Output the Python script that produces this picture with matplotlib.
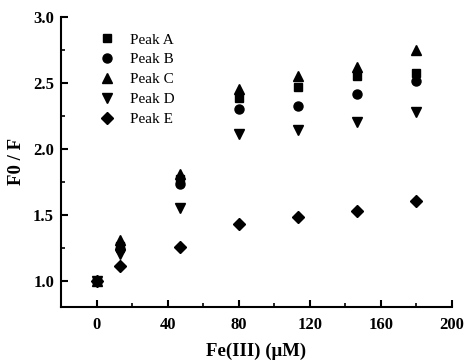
import matplotlib
matplotlib.use("Agg")
import matplotlib.pyplot as plt
from matplotlib.ticker import MultipleLocator

plt.rcParams['font.family'] = ['Liberation Serif', 'DejaVu Serif']

fe = [0, 13.3, 46.7, 80, 113.3, 146.7, 180]
peak_a = [1.0, 1.26, 1.77, 2.38, 2.47, 2.55, 2.57]
peak_b = [1.0, 1.24, 1.73, 2.30, 2.32, 2.41, 2.51]
peak_c = [1.0, 1.31, 1.81, 2.45, 2.55, 2.62, 2.745]
peak_d = [1.0, 1.20, 1.55, 2.11, 2.14, 2.20, 2.28]
peak_e = [1.0, 1.11, 1.255, 1.43, 1.48, 1.53, 1.60]
labels = ["Peak A", "Peak B", "Peak C", "Peak D", "Peak E"]
markers = ["s", "o", "^", "v", "D"]
sizes = [6, 6.5, 7.5, 7.5, 6]

fig = plt.figure(figsize=(4.66, 3.6), dpi=100)
ax = fig.add_axes([0.131, 0.147, 0.839, 0.807])

for ys, lab, m, s in zip([peak_a, peak_b, peak_c, peak_d, peak_e], labels, markers, sizes):
    ax.plot(fe, ys, linestyle='none', marker=m, color='black', markersize=s, label=lab)

ax.set_xlim(-20, 200)
ax.set_ylim(0.8, 3.0)
ax.xaxis.set_minor_locator(MultipleLocator(20))
ax.yaxis.set_minor_locator(MultipleLocator(0.25))
ax.set_xticks([0, 40, 80, 120, 160, 200])
ax.set_yticks([1.0, 1.5, 2.0, 2.5, 3.0])
ax.set_yticklabels(["1.0", "1.5", "2.0", "2.5", "3.0"])

for side in ['top', 'right']:
    ax.spines[side].set_visible(False)
for side in ['left', 'bottom']:
    ax.spines[side].set_linewidth(1.5)

ax.tick_params(which='major', direction='in', length=5, width=1.5, labelsize=12)
ax.tick_params(axis='x', which='major', pad=7)
ax.tick_params(axis='y', which='major', pad=5)
ax.tick_params(which='minor', direction='in', length=3, width=1.2)
for t in ax.get_xticklabels() + ax.get_yticklabels():
    t.set_fontweight('bold')

ax.set_xlabel("Fe(III) (μM)", fontsize=13.5, fontweight='bold', labelpad=7)
ax.set_ylabel("F0 / F", fontsize=13.5, fontweight='bold', labelpad=6)

ax.legend(loc='upper left', bbox_to_anchor=(0.055, 0.975), frameon=False,
          fontsize=11, handletextpad=0.5, labelspacing=0.4, borderaxespad=0.2)

fig.savefig("out.png", dpi=100)
